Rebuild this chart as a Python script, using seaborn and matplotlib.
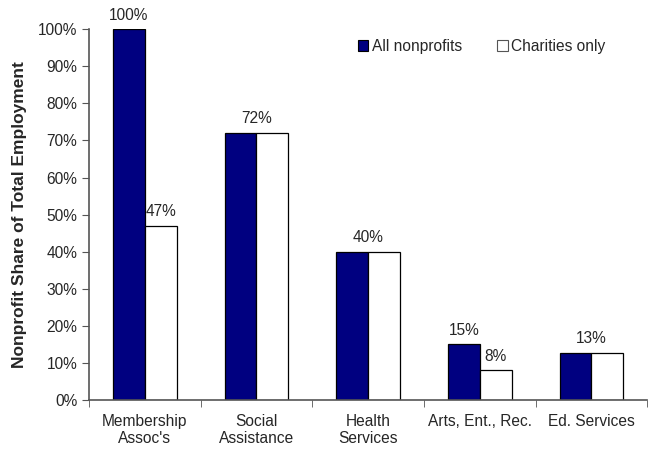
import pandas as pd
import matplotlib.pyplot as plt
import seaborn as sns
from matplotlib.patches import Patch
from matplotlib.ticker import PercentFormatter

categories = ["Membership\nAssoc's", "Social\nAssistance", "Health\nServices", "Arts, Ent., Rec.", "Ed. Services"]
all_nonprofits = [100, 72, 40, 15, 12.8]
charities_only = [47, 72, 40, 8, 12.6]
series_names = ["All nonprofits", "Charities only"]
# labels shown above each pair; None in charities means one shared label centred over the pair
all_labels = ["100%", "72%", "40%", "15%", "13%"]
charity_labels = ["47%", None, None, "8%", None]

df = pd.DataFrame({
    "category": categories * 2,
    "share": all_nonprofits + charities_only,
    "series": [series_names[0]] * 5 + [series_names[1]] * 5,
})

sns.set_style("white")
plt.rcParams["font.family"] = ["Liberation Sans", "DejaVu Sans"]

fig = plt.figure(figsize=(6.55, 4.49), dpi=100)
ax = fig.add_axes([0.136, 0.109, 0.852, 0.826])

palette = {"All nonprofits": "#000080", "Charities only": "white"}
sns.barplot(data=df, x="category", y="share", hue="series", palette=palette,
            width=0.57, gap=0, edgecolor="black", linewidth=0.9,
            legend=False, ax=ax, saturation=1)

fs = 11.2
bw = 0.285
for i in range(len(categories)):
    if charity_labels[i] is None:
        top = max(all_nonprofits[i], charities_only[i])
        ax.text(i, top + 1.8, all_labels[i], ha="center", va="bottom", fontsize=fs)
    else:
        ax.text(i - bw / 2, all_nonprofits[i] + 1.8, all_labels[i], ha="center", va="bottom", fontsize=fs)
        ax.text(i + bw / 2, charities_only[i] + 1.8, charity_labels[i], ha="center", va="bottom", fontsize=fs)

ax.set_ylim(0, 100)
ax.set_xlim(-0.5, len(categories) - 0.5)
ax.yaxis.set_major_formatter(PercentFormatter(decimals=0))
ax.set_yticks(range(0, 101, 10))
ax.set_xticks(range(len(categories)))
ax.set_xticks([x - 0.5 for x in range(len(categories) + 1)], minor=True)
ax.tick_params(axis="x", which="major", length=0, pad=10, labelsize=fs)
ax.tick_params(axis="x", which="minor", length=5, direction="out", color="#555555", bottom=True)
ax.tick_params(axis="y", length=5, direction="out", color="#555555", left=True, labelsize=fs)

ax.set_xlabel("")
ax.set_ylabel("Nonprofit Share of Total Employment", fontsize=12.5, fontweight="bold", labelpad=8)
sns.despine(ax=ax)
for s in ["left", "bottom"]:
    ax.spines[s].set_color("#555555")
    ax.spines[s].set_linewidth(1.2)

handles = [Patch(facecolor="#000080", edgecolor="black", linewidth=0.8),
           Patch(facecolor="white", edgecolor="#555555", linewidth=0.8)]
ax.legend(handles, series_names, loc="upper left", bbox_to_anchor=(0.456, 1.012),
          ncol=2, frameon=False, fontsize=fs, handlelength=0.7, handleheight=0.7,
          handletextpad=0.2, columnspacing=2.3)

fig.savefig("out.png", dpi=100)
